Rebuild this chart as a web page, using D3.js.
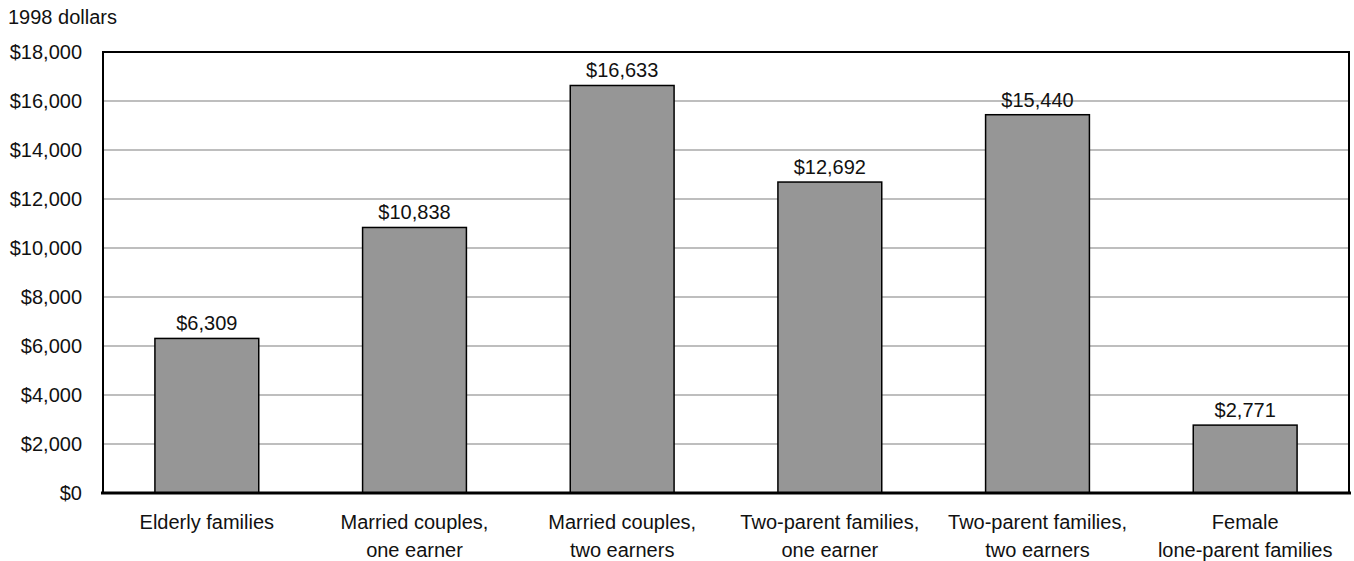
<!DOCTYPE html>
<html><head><meta charset="utf-8">
<script src="https://cdn.jsdelivr.net/npm/d3@7"></script>
<style>body{margin:0;background:#fff;}svg text{font-family:"Liberation Sans",Arial,sans-serif;fill:#111;}</style>
</head><body><svg id="c" width="1354" height="561"></svg>
<script>
const categories = [["Elderly families"],["Married couples,","one earner"],["Married couples,","two earners"],["Two-parent families,","one earner"],["Two-parent families,","two earners"],["Female","lone-parent families"]];
const values = [6309,10838,16633,12692,15440,2771];
const yTicks = [0,2000,4000,6000,8000,10000,12000,14000,16000,18000];

const svg = d3.select("#c");
const m = {l:103,r:1349,t:52,b:493};
const x = d3.scaleBand().domain(d3.range(categories.length)).range([m.l,m.r]).paddingInner(0.5).paddingOuter(0.25);
const y = d3.scaleLinear().domain([0,18000]).range([m.b,m.t]);
const fmt = v => "$" + d3.format(",")(v);

svg.append("g").selectAll("line").data(yTicks.slice(1,-1)).join("line")
  .attr("x1",m.l).attr("x2",m.r).attr("y1",d=>y(d)).attr("y2",d=>y(d))
  .attr("stroke","#a8a8a8").attr("stroke-width",1.5);

svg.append("g").selectAll("rect").data(values).join("rect")
  .attr("x",(d,i)=>x(i)).attr("width",x.bandwidth())
  .attr("y",d=>y(d)).attr("height",d=>y(0)-y(d))
  .attr("fill","#969696").attr("stroke","#000").attr("stroke-width",1.5);

svg.append("path").attr("d",`M${m.l},${m.b}V${m.t}H${m.r}V${m.b}`)
  .attr("fill","none").attr("stroke","#000").attr("stroke-width",2);
svg.append("line").attr("x1",m.l-2).attr("x2",m.r+2).attr("y1",m.b).attr("y2",m.b)
  .attr("stroke","#000").attr("stroke-width",3);

svg.append("g").selectAll("text").data(yTicks).join("text")
  .attr("x",82).attr("y",d=>y(d)+7).attr("text-anchor","end")
  .attr("font-size",20).text(fmt);

svg.append("g").selectAll("text").data(values).join("text")
  .attr("x",(d,i)=>x(i)+x.bandwidth()/2).attr("y",d=>y(d)-8)
  .attr("text-anchor","middle").attr("font-size",20).text(fmt);

const cg = svg.append("g").selectAll("text").data(categories).join("text")
  .attr("x",(d,i)=>x(i)+x.bandwidth()/2).attr("y",529)
  .attr("text-anchor","middle").attr("font-size",20);
cg.selectAll("tspan").data(d=>d).join("tspan")
  .attr("x",function(){return this.parentNode.getAttribute("x");})
  .attr("dy",(d,i)=>i?28:0).text(d=>d);

svg.append("text").attr("x",8).attr("y",24).attr("font-size",20).text("1998 dollars");
</script></body></html>
